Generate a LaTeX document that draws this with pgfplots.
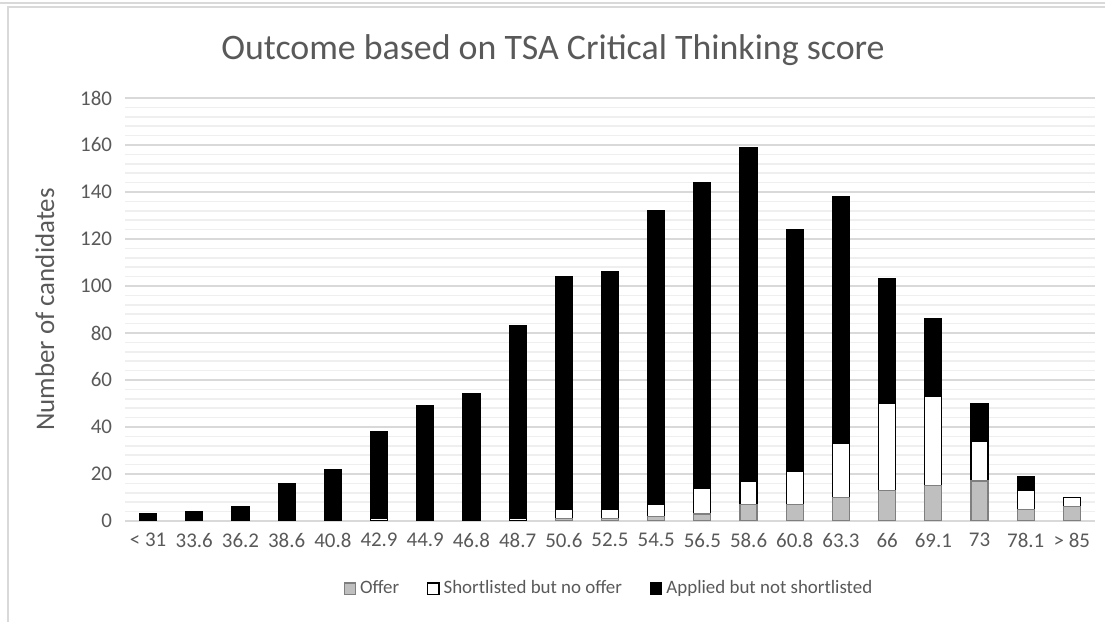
\documentclass[border=0pt]{standalone}
\usepackage{pgfplots}
\pgfplotsset{compat=1.18}
\usepackage{pgfplotstable}
\usepackage{fontspec}
\setmainfont{Carlito}
\definecolor{txt}{HTML}{595959}
\definecolor{gmaj}{HTML}{D9D9D9}
\definecolor{gmin}{HTML}{EFEFEF}
\definecolor{offerf}{HTML}{BFBFBF}
\definecolor{offerd}{HTML}{7F7F7F}
\pgfplotsset{sqlegend/.style={legend image code/.code={\draw[##1] (0bp,-2.8bp) rectangle (5.6bp,2.8bp);}}}
\pgfplotstableread{
x offer short applied
0 0 0 3
1 0 0 4
2 0 0 6
3 0 0 16
4 0 0 22
5 0 1 37
6 0 0 49
7 0 0 54
8 0 1 82
9 1 4 99
10 1 4 101
11 2 5 125
12 3 11 130
13 7 10 142
14 7 14 103
15 10 23 105
16 13 37 53
17 15 38 33
18 17 17 16
19 5 8 6
20 6 4 0
}\data
\begin{document}
\begin{tikzpicture}
\useasboundingbox (0,0) rectangle (552.5bp,311bp);
\draw[gmaj, line width=0.8bp] (0,309.6bp) -- (552.5bp,309.6bp);
\draw[gmaj, line width=0.8bp] (4bp,0) -- (4bp,307.5bp) -- (552.5bp,307.5bp);
\node[font=\fontsize{18}{21}\selectfont, text=txt] at (276.5bp,286bp) {Outcome based on TSA Critical Thinking score};
\begin{axis}[
  at={(62.5bp,50.5bp)}, anchor=south west,
  scale only axis, width=485bp, height=211.5bp,
  xmin=-0.5, xmax=20.5, ymin=0, ymax=180,
  ybar stacked, bar width=8.5bp,
  xtick={0,...,20},
  xticklabels={< 31,33.6,36.2,38.6,40.8,42.9,44.9,46.8,48.7,50.6,52.5,54.5,56.5,58.6,60.8,63.3,66,69.1,73,78.1,> 85},
  ytick={0,20,...,180},
  minor y tick num=4,
  ymajorgrids, yminorgrids,
  major grid style={gmaj, line width=0.8bp},
  minor grid style={gmin, line width=0.8bp},
  axis x line*=bottom, axis y line*=left,
  y axis line style={draw=none},
  x axis line style={gmaj, line width=0.8bp, -},
  tick style={draw=none},
  /pgf/number format/assume math mode=true,
  tick label style={font=\fontsize{10.5}{12}\selectfont, text=txt},
  yticklabel style={xshift=-3bp},
  xticklabel style={yshift=-2.5bp},
  ylabel={Number of candidates},
  ylabel style={at={(axis description cs:-0.0825,0.5)}, anchor=center, font=\fontsize{13.5}{15}\selectfont, text=txt},
  legend columns=3,
  legend style={at={(axis description cs:0.5,-0.16)}, anchor=center, draw=none, fill=none,
    font=\fontsize{9.5}{11}\selectfont, text=txt,
    /tikz/every even column/.append style={column sep=12bp}},
]
\addplot[fill=offerf, draw=offerd, line width=0.6bp, sqlegend]
  table[x=x, y=offer] {\data};
\addplot[fill=white, draw=black, line width=0.6bp, sqlegend]
  table[x=x, y=short] {\data};
\addplot[fill=black, draw=black, line width=0.6bp, sqlegend]
  table[x=x, y=applied] {\data};
\legend{Offer, Shortlisted but no offer, Applied but not shortlisted}
\end{axis}
\end{tikzpicture}
\end{document}
